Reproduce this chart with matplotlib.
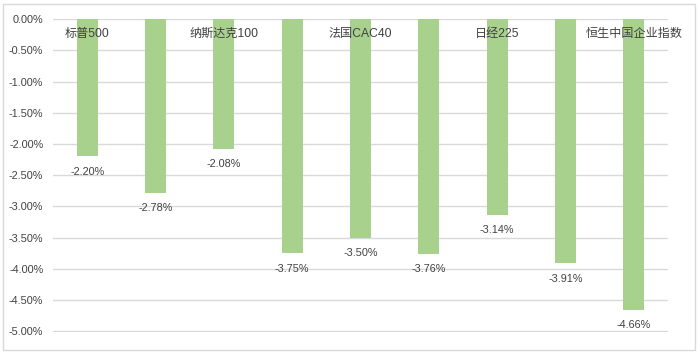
import matplotlib.pyplot as plt
from matplotlib.patches import Rectangle
import numpy as np

# categories (only every other name is shown on the chart)
labels = ['标普500', '', '纳斯达克100', '', '法国CAC40', '', '日经225', '', '恒生中国企业指数']
values = [-2.20, -2.78, -2.08, -3.75, -3.50, -3.76, -3.14, -3.91, -4.66]
yticks = [0.0, -0.5, -1.0, -1.5, -2.0, -2.5, -3.0, -3.5, -4.0, -4.5, -5.0]

plt.rcParams['font.family'] = ['Liberation Sans', 'Noto Sans CJK SC', 'DejaVu Sans']

fig = plt.figure(figsize=(7, 3.53), dpi=100)
ax = fig.add_axes([0.0757, 0.0595, 0.8786, 0.8865])

x = np.arange(len(values))
ax.bar(x, values, width=0.31, color='#a9d18e', zorder=2)

ax.set_xlim(-0.5, len(values) - 0.5)
ax.set_ylim(-5.01, 0)
ax.set_yticks(yticks)
ax.set_yticklabels([f'{t:.2f}%' for t in yticks], fontsize=7.8, color='#404040')
ax.set_xticks([])
ax.tick_params(axis='y', length=0, pad=7)
for s in ax.spines.values():
    s.set_visible(False)
ax.grid(axis='y', color='#d9d9d9', linewidth=1, zorder=0)

for xi, v in zip(x, values):
    ax.annotate(f'{v:.2f}%', (xi, v), xytext=(0, -11), textcoords='offset points',
                ha='center', va='center', fontsize=7.8, color='#404040')

for xi, lab in zip(x, labels):
    if lab:
        ax.annotate(lab, (xi, 0), xytext=(0, -11), textcoords='offset points',
                    ha='center', va='center', fontsize=8.7, color='#404040', zorder=3)

fig.patches.append(Rectangle((3 / 700, 3 / 353), 692 / 700, 346 / 353, transform=fig.transFigure,
                             fill=False, edgecolor='#d9d9d9', linewidth=1))

fig.savefig('out.png', dpi=100)
